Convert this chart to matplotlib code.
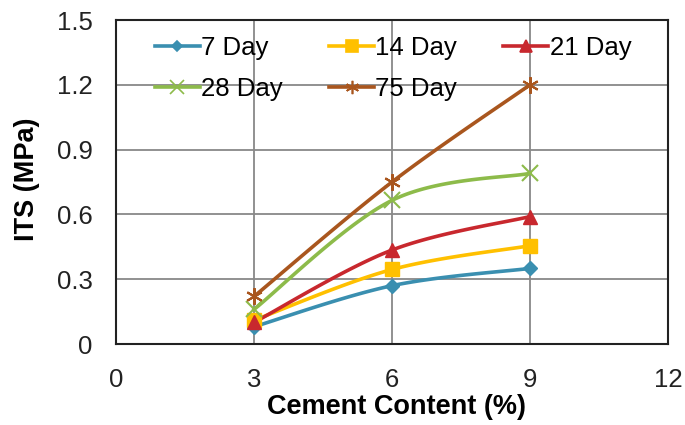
import numpy as np
import matplotlib.pyplot as plt
from matplotlib.lines import Line2D

# data
cement = [3, 6, 9]
its_7 = [0.08, 0.27, 0.35]
its_14 = [0.11, 0.345, 0.455]
its_21 = [0.10, 0.435, 0.59]
its_28 = [0.16, 0.665, 0.79]
its_75 = [0.22, 0.75, 1.20]
series_labels = ['7 Day', '14 Day', '21 Day', '28 Day', '75 Day']

x_ticks = [0, 3, 6, 9, 12]
y_ticks = [0, 0.3, 0.6, 0.9, 1.2, 1.5]
y_tick_labels = ['0', '0.3', '0.6', '0.9', '1.2', '1.5']

colors = ['#3a8fb0', '#ffc000', '#c8282e', '#8dbb4a', '#a9561e']
markers = ['D', 's', '^', 'x', (6, 2, 0)]
msizes = [7, 10, 10, 12, 12]

plt.rcParams['font.family'] = ['Liberation Sans', 'DejaVu Sans']


def smooth_curve(xs, ys, n=40):
    """Excel-like smoothed line: cubic bezier through the points,
    control points taken from neighbouring points (catmull-rom style)."""
    pts = np.column_stack([xs, ys]).astype(float)
    padded = np.vstack([pts[0], pts, pts[-1]])
    out = []
    for i in range(len(pts) - 1):
        p0, p1, p2, p3 = padded[i], padded[i + 1], padded[i + 2], padded[i + 3]
        c1 = p1 + (p2 - p0) / 6.0
        c2 = p2 - (p3 - p1) / 6.0
        t = np.linspace(0, 1, n)[:, None]
        seg = ((1 - t) ** 3 * p1 + 3 * (1 - t) ** 2 * t * c1
               + 3 * (1 - t) * t ** 2 * c2 + t ** 3 * p2)
        out.append(seg if i == 0 else seg[1:])
    seg = np.vstack(out)
    return seg[:, 0], seg[:, 1]


fig = plt.figure(figsize=(6.85, 4.25), dpi=100)
ax = fig.add_axes([116 / 685, 1 - 344 / 425, (668 - 116) / 685, (344 - 20) / 425])

series = [its_7, its_14, its_21, its_28, its_75]
handles = []
for vals, lab, col, mk, ms in zip(series, series_labels, colors, markers, msizes):
    sx, sy = smooth_curve(cement, vals)
    ax.plot(sx, sy, color=col, lw=2.6, zorder=3)
    ax.plot(cement, vals, linestyle='none', marker=mk, markersize=ms, color=col,
            markeredgewidth=1.5 if mk == 'x' or isinstance(mk, tuple) else 1,
            zorder=4)
    handles.append(Line2D([], [], color=col, lw=2.6, marker=mk,
                          markersize=ms * 0.8, markeredgewidth=1.2, label=lab))

ax.set_xlim(0, 12)
ax.set_ylim(0, 1.5)
ax.set_xticks(x_ticks)
ax.set_yticks(y_ticks)
ax.set_yticklabels(y_tick_labels)
ax.tick_params(length=0, labelsize=18.5, colors='#222222')
ax.tick_params(axis='x', pad=17)
ax.tick_params(axis='y', pad=17)
ax.grid(True, color='#888888', lw=1.3)
ax.set_axisbelow(True)
for sp in ax.spines.values():
    sp.set_color('#222222')
    sp.set_linewidth(1.5)

ax.set_xlabel('Cement Content (%)', fontsize=19.5, fontweight='bold', labelpad=2)
ax.set_ylabel('ITS (MPa)', fontsize=19.5, fontweight='bold', labelpad=12)
ax.xaxis.label.set_x(0.509)
ax.yaxis.label.set_y(0.51)

# legend fills column-wise, so reorder to get rows 7/14/21 and 28/75
leg_order = [0, 3, 1, 4, 2]
ax.legend(handles=[handles[i] for i in leg_order], ncol=3, loc='upper left',
          bbox_to_anchor=(0.038, 1.005), frameon=False, fontsize=18.5,
          handlelength=1.75, handletextpad=0.05, columnspacing=1.8,
          labelspacing=0.65, borderaxespad=0.3)

fig.savefig('out.png', dpi=100, facecolor='white')
